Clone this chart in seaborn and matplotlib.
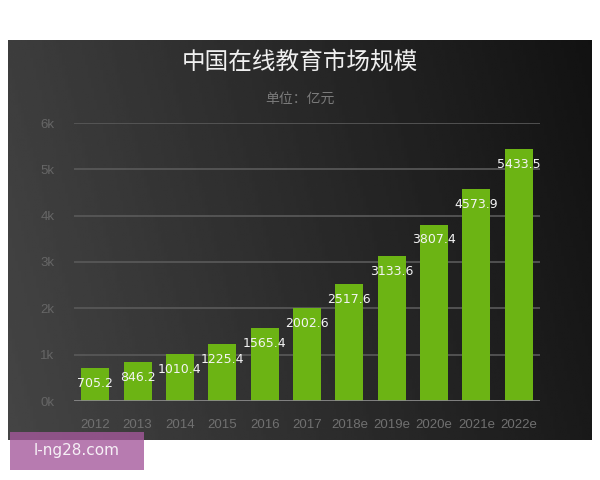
import numpy as np
import pandas as pd
import seaborn as sns
from matplotlib import pyplot as plt
from matplotlib.patches import Rectangle

sns.set_style("dark")
plt.rcParams['font.family'] = ['Noto Sans CJK SC', 'DejaVu Sans']

years = ["2012", "2013", "2014", "2015", "2016", "2017",
         "2018e", "2019e", "2020e", "2021e", "2022e"]
market = [705.2, 846.2, 1010.4, 1225.4, 1565.4, 2002.6,
          2517.6, 3133.6, 3807.4, 4573.9, 5433.5]
yticks = [0, 1000, 2000, 3000, 4000, 5000, 6000]
ytick_labels = ["0k", "1k", "2k", "3k", "4k", "5k", "6k"]

d = pd.DataFrame({"year": years, "value": market})

fig = plt.figure(figsize=(6, 4.8), dpi=100)
fig.patch.set_facecolor("white")

# dark gradient panel behind the chart
bg = fig.add_axes([8/600, 1 - 440/480, 584/600, 400/480])
gx = np.linspace(0, 1, 200)
gy = np.linspace(0, 1, 160)
X, Y = np.meshgrid(gx, gy)
grad = 0.24 - 0.17 * X + 0.03 * (1 - Y)
bg.imshow(grad, cmap="gray", vmin=0, vmax=1, aspect="auto",
          extent=[0, 1, 0, 1], origin="lower")
bg.set_axis_off()

ax = fig.add_axes([74/600, 1 - 401/480, 466/600, 278/480])
ax.patch.set_alpha(0)

sns.barplot(data=d, x="year", y="value", color="#6cb414", width=0.66,
            saturation=1, ax=ax, zorder=3, edgecolor="none", linewidth=0)

for i, v in enumerate(market):
    ax.annotate(f"{v:.1f}", (i, v), xytext=(0, -11), textcoords="offset points",
                ha="center", va="center", color="#f4f4f4", fontsize=9,
                family="DejaVu Sans", zorder=4)

ax.set_ylim(0, 6000)
ax.set_xlim(-0.5, 10.5)
ax.set_yticks(yticks)
ax.set_yticklabels(ytick_labels)
ax.grid(False)
for t in yticks[1:]:
    ax.axhline(t, color="#5a5a5a", lw=1.2, zorder=1)
ax.axhline(0, color="#8a8a8a", lw=2, zorder=4)

ax.tick_params(axis="y", colors="#666666", labelsize=9.5, length=0, pad=14)
ax.tick_params(axis="x", colors="#707070", labelsize=9.5, length=0, pad=13)
for lab in ax.get_xticklabels() + ax.get_yticklabels():
    lab.set_family("Liberation Sans")
ax.set_xlabel("")
ax.set_ylabel("")
for s in ax.spines.values():
    s.set_visible(False)

fig.text(0.5, 1 - 62/480, "中国在线教育市场规模", ha="center", va="center",
         color="#f0f0f0", fontsize=17)
fig.text(0.5, 1 - 99/480, "单位：亿元", ha="center", va="center",
         color="#7a7a7a", fontsize=10)

# watermark box
fig.patches.append(Rectangle((10/600, 1 - 470/480), 134/600, 38/480,
                             transform=fig.transFigure, facecolor="#a4589b",
                             alpha=0.79, edgecolor="none", zorder=5))
fig.text(77/600, 1 - 451/480, "l-ng28.com", ha="center", va="center",
         color="#f6f0f6", fontsize=11, family="DejaVu Sans", zorder=6)

plt.savefig("out.png", dpi=100)
plt.close()
